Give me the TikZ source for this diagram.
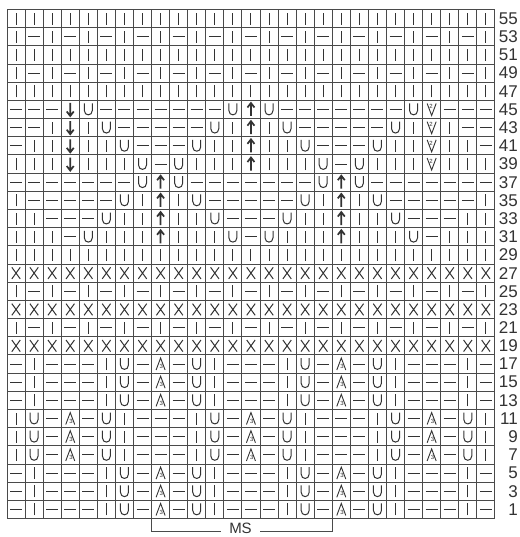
\documentclass[tikz,border=0pt]{standalone}
\usepackage{fontspec}
\setmainfont{Liberation Sans}
\usepackage{xstring}
\usepackage{tikz}
\usetikzlibrary{positioning,calc}
\definecolor{ink}{HTML}{333333}
\definecolor{rule}{HTML}{4A4A4A}

% one letter per stitch: l knit, p purl, o yarn over, x, d/u arrows, v and a decreases
\newcommand{\rowK}{lllllllllllllllllllllllllll}
\newcommand{\rowR}{lplplplplplplplplplplplplpl}
\newcommand{\rowX}{xxxxxxxxxxxxxxxxxxxxxxxxxxx}
\newcommand{\rowA}{plppplopapolppplopapolppplp}
\newcommand{\rowB}{lopapolppplopapolppplopapol}
\newcommand{\rowMid}{olllulllo}
\newcommand{\rowXXXI}{lllp\rowMid p\rowMid plll}

\begin{document}
\begin{tikzpicture}[
    x=1pt,y=-1pt,
    gridline/.style={draw=rule,line width=0.9pt},
    sym/.style={draw=ink,line width=1pt},
    boldsym/.style={draw=ink,line width=1.7pt,miter limit=4},
    rownum/.style={anchor=east,inner sep=0pt,text=ink,font=\fontsize{17}{17}\selectfont},
    tinynum/.style={inner sep=0pt,text=ink,font=\fontsize{6}{6}\selectfont},
    mslabel/.style={inner xsep=8pt,inner ysep=0pt,text=ink,font=\fontsize{15}{15}\selectfont},
    pics/cl/.style={code={\draw[sym] (0pt,-6pt) -- (0pt,6pt);}},
    pics/cp/.style={code={\draw[sym] (-6pt,0pt) -- (6pt,0pt);}},
    pics/co/.style={code={\draw[sym] (-4pt,6pt) -- (-4pt,-1pt) .. controls (-4pt,-6.8pt) and (4pt,-6.8pt) .. (4pt,-1pt) -- (4pt,6pt);}},
    pics/cx/.style={code={\draw[sym] (-4.2pt,-5.8pt) -- (4.2pt,5.8pt) (-4.2pt,5.8pt) -- (4.2pt,-5.8pt);}},
    pics/cd/.style={code={\draw[boldsym] (0pt,6.5pt) -- (0pt,-6.5pt) (-3.5pt,-2pt) -- (0pt,-6.5pt) -- (3.5pt,-2pt);}},
    pics/cu/.style={code={\draw[boldsym] (0pt,-6.5pt) -- (0pt,6.5pt) (-3.5pt,2pt) -- (0pt,6.5pt) -- (3.5pt,2pt);}},
    pics/cv/.style={code={
      \draw[sym,line width=0.9pt] (-4.5pt,6pt) -- (0pt,-6pt) -- (4.5pt,6pt);
      \node[tinynum] (-n) at (-0.6pt,2.8pt) {2};}},
    pics/ca/.style={code={
      \draw[sym,line width=0.9pt] (-4.5pt,-6pt) -- (0pt,6pt) -- (4.5pt,-6pt);
      \node[tinynum] (-n) at (0.8pt,-2.6pt) {3};}}
  ]
    \useasboundingbox (0,0) rectangle (519,537);
    \fill[white] (0,0) rectangle (519,537);

    \foreach \i in {0,...,27}
      \draw[gridline] ({7+\i*18.07},9.5) -- ({7+\i*18.07},518.5);
    \foreach \j in {0,...,28}
      \draw[gridline] (7,{9.5+\j*18.18}) -- (494.9,{9.5+\j*18.18});

    \foreach \rowdata [count=\r] in {\rowK,\rowR,\rowK,\rowR,\rowK,
        pppdopppppppouopppppppovppp,
        ppldlopppppolulopppppolvlpp,
        plldllopppollullopppollvllp,
        llldlllopolllulllopolllvlll,
        pppppppouopppppppouoppppppp,
        lpppppolulopppppolulopppppl,
        llpppollullopppollullopppll,
        \rowXXXI,
        \rowK,\rowX,\rowR,\rowX,\rowR,\rowX,
        \rowA,\rowA,\rowA,\rowB,\rowB,\rowB,\rowA,\rowA,\rowA} {
      \pgfmathtruncatemacro\rn{57-2*\r}
      \node[rownum] (n\rn) at (518,{9.5+(\r-0.5)*18.18}) {\rn};
      \foreach \c in {1,...,27} {
        \StrChar{\rowdata}{\c}[\sym]
        \pic (s\rn-\c) at ({7+(\c-0.5)*18.07},{9.5+(\r-0.5)*18.18}) {c\sym};
      }
    }

    \node[mslabel] (ms) at (240.5,528.5) {MS};
    \coordinate (msl) at (151.6,518.5);
    \coordinate (msr) at (332.3,518.5);
    \draw[gridline] (msl) |- ([yshift=-3pt]ms.west);
    \draw[gridline] (msr) |- ([yshift=-3pt]ms.east);
\end{tikzpicture}
\end{document}
